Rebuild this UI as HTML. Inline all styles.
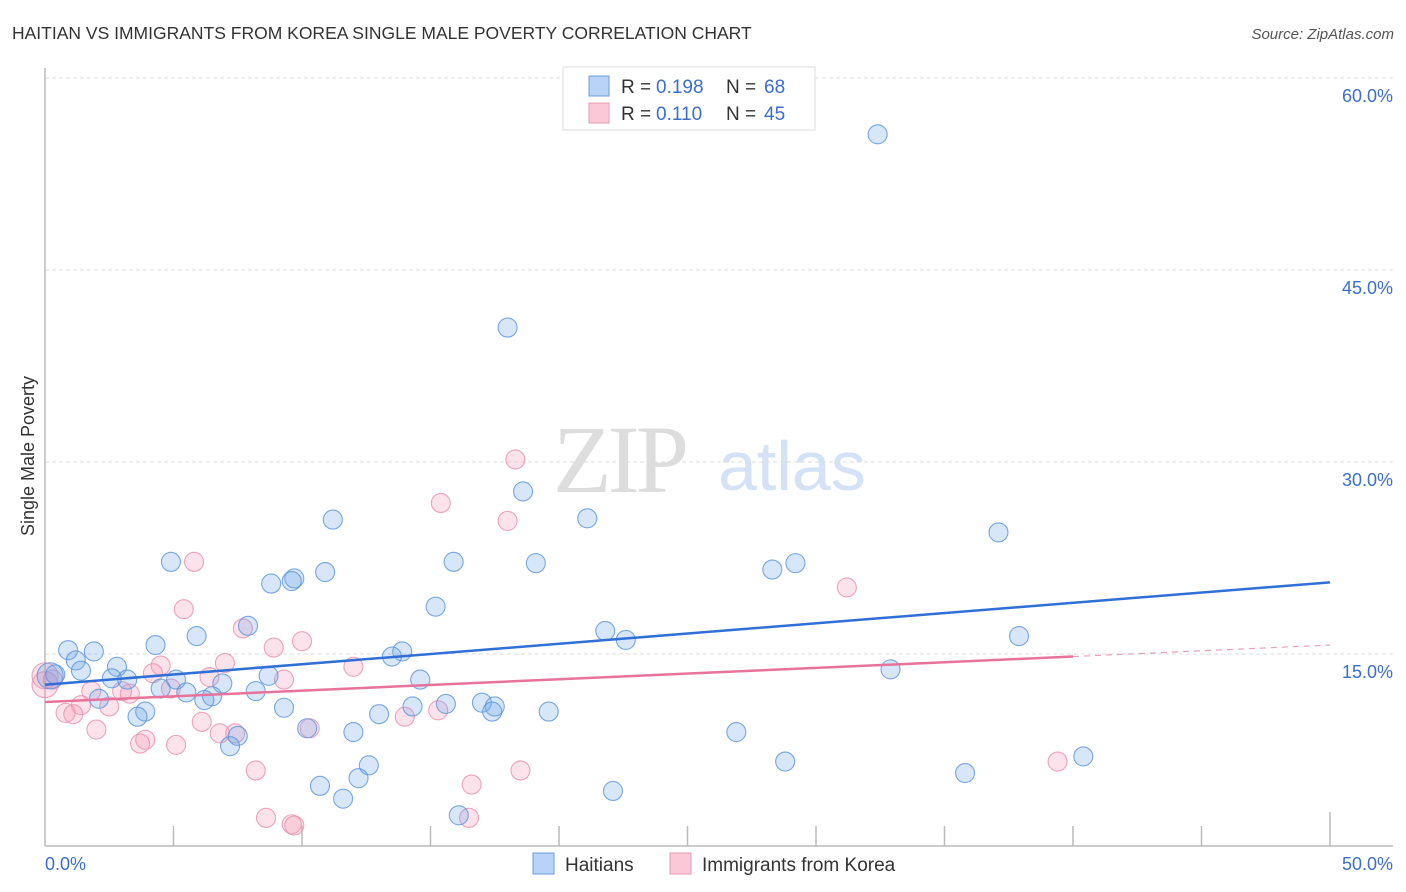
<!DOCTYPE html>
<html><head><meta charset="utf-8"><style>
body{margin:0;background:#fff;font-family:"Liberation Sans",sans-serif}
svg{display:block}
</style></head><body>
<svg width="1406" height="892" viewBox="0 0 1406 892" xmlns="http://www.w3.org/2000/svg">
<text x="12" y="39" font-size="17.5" fill="#333">HAITIAN VS IMMIGRANTS FROM KOREA SINGLE MALE POVERTY CORRELATION CHART</text>
<text x="1394" y="39" font-size="15" fill="#555" font-style="italic" text-anchor="end">Source: ZipAtlas.com</text>
<g>
<text x="553" y="492" font-size="96" font-family="Liberation Serif,serif" fill="#ddd" letter-spacing="-4">ZIP</text>
<text x="718" y="490" font-size="70" fill="#d4e2f5">atlas</text>
</g>
<g id="grid"></g>
<g id="axes"></g>
<g id="pts"></g>
<g id="trend"></g>
<text transform="translate(34,456) rotate(-90)" font-size="18" fill="#333" text-anchor="middle">Single Male Poverty</text>
<g>
<rect x="563" y="67" width="252" height="63" fill="#fff" stroke="#ddd"/>
<rect x="589" y="76" width="20" height="20" fill="#b8d3f5" stroke="#6a9ee0"/>
<rect x="589" y="103" width="20" height="20" fill="#fac8d6" stroke="#ea9bb5"/>
<text x="621" y="93" font-size="19" fill="#333">R =</text>
<text x="656" y="93" font-size="19" fill="#3a6fd0">0.198</text>
<text x="726" y="93" font-size="19" fill="#333">N =</text>
<text x="764" y="93" font-size="19" fill="#3a6fd0">68</text>
<text x="621" y="120" font-size="19" fill="#333">R =</text>
<text x="656" y="120" font-size="19" fill="#3a6fd0">0.110</text>
<text x="726" y="120" font-size="19" fill="#333">N =</text>
<text x="764" y="120" font-size="19" fill="#3a6fd0">45</text>
</g>
<g>
<rect x="533" y="853" width="21" height="21" fill="#b8d3f5" stroke="#6a9ee0"/>
<text x="565" y="871" font-size="19" fill="#333">Haitians</text>
<rect x="670" y="853" width="21" height="21" fill="#fac8d6" stroke="#ea9bb5"/>
<text x="702" y="871" font-size="19" fill="#333">Immigrants from Korea</text>
</g>
</svg>
<script>
const blueX=[32.4,18.0,18.6,21.1,11.2,37.1,4.9,15.9,19.1,29.2,28.3,10.9,9.7,8.8,9.6,15.2,7.9,21.8,37.9,22.6,5.9,4.3,0.9,1.9,13.9,13.5,1.2,1.4,2.8,0.2,0.4,32.9,8.7,2.6,3.2,5.1,6.9,4.5,5.5,8.2,6.5,6.2,14.6,15.6,14.3,17.0,17.5,17.4,9.3,3.9,3.6,19.6,13.0,7.5,10.2,12.0,7.2,26.9,12.6,12.2,10.7,11.6,28.8,35.8,40.4,22.1,16.1,2.1];
const blueY=[55.6,40.5,27.7,25.6,25.5,24.5,22.2,22.2,22.1,22.1,21.6,21.4,20.9,20.5,20.7,18.7,17.2,16.8,16.4,16.1,16.4,15.7,15.3,15.2,15.2,14.8,14.5,13.7,14.0,13.3,13.4,13.8,13.3,13.1,13.0,13.0,12.7,12.3,12.0,12.1,11.7,11.4,13.0,11.1,10.9,11.2,10.9,10.5,10.8,10.5,10.1,10.5,10.3,8.6,9.2,8.9,7.8,8.9,6.3,5.3,4.7,3.7,6.6,5.7,7.0,4.3,2.4,11.5];
const pinkX=[18.3,15.4,18.0,5.8,31.2,5.4,7.7,10.0,8.9,4.5,4.2,12.0,7.0,6.4,9.3,0.0,0.3,1.8,3.0,3.3,4.9,2.5,1.4,0.8,1.1,6.1,15.3,14.0,6.8,7.4,2.0,3.9,3.7,5.1,10.3,8.2,18.5,16.6,39.4,8.6,9.6,9.7,16.5,0.0];
const pinkY=[30.2,26.8,25.4,22.2,20.2,18.5,17.0,16.0,15.5,14.1,13.5,14.0,14.3,13.2,13.0,13.3,13.0,12.1,12.1,11.9,12.3,10.9,11.0,10.4,10.3,9.7,10.6,10.1,8.8,8.8,9.1,8.3,8.0,7.9,9.2,5.9,5.9,4.8,6.6,2.2,1.7,1.6,2.2,12.6];
const blueTrend=[12.6,20.6];
const pinkTrend=[11.25,14.8,15.7];
const yTicks=[15,30,45,60];
const xTickLabels=["0.0%","50.0%"];
const NS="http://www.w3.org/2000/svg";
const X=v=>45+v*25.7, Y=v=>846-v*12.8;
function mk(p,t,a){const e=document.createElementNS(NS,t);for(const k in a)e.setAttribute(k,a[k]);p.appendChild(e);return e;}
const grid=document.getElementById('grid'),axes=document.getElementById('axes'),pts=document.getElementById('pts'),tr=document.getElementById('trend');
yTicks.forEach(t=>{const l=mk(grid,'line',{x1:45,x2:1393,y1:Y(t),y2:Y(t),stroke:'#ddd','stroke-dasharray':'4,3'});


const tx=mk(grid,'text',{x:1393,y:Y(t)+24,'font-size':18,fill:'#3a6fd0','text-anchor':'end'});tx.textContent=t.toFixed(1)+'%';

});
const ya=mk(axes,'line',{x1:45,x2:45,y1:68,y2:846,stroke:'#bbb','stroke-width':1.5});


const xa=mk(axes,'line',{x1:45,x2:1393,y1:846,y2:846,stroke:'#bbb','stroke-width':1.5});


for(let i=1;i<=10;i++){const v=i*5;const tk=mk(axes,'line',{x1:X(v),x2:X(v),y1:i==10?812:826,y2:846,stroke:'#bbb','stroke-width':1.5});

}
[[0,'start'],[50,'end']].forEach((d,i)=>{const t=mk(axes,'text',{x:i?1393:45,y:870,'font-size':18,fill:'#3a6fd0','text-anchor':d[1]});t.textContent=xTickLabels[i];

});
function dots(xs,ys,fill,stroke,name,big){xs.forEach((x,i)=>{const r=(big.includes(i))?13:9.5;const c=mk(pts,'circle',{cx:X(x),cy:Y(ys[i]),r:r,fill:fill,stroke:stroke,'stroke-width':1.1,'stroke-opacity':0.8});

});}
dots(pinkX,pinkY,'rgba(245,150,180,0.28)','#e98fae','korea-point',[15,43]);
dots(blueX,blueY,'rgba(110,165,235,0.28)','#5a92dc','haitian-point',[29]);
const bl=mk(tr,'line',{x1:X(0),y1:Y(blueTrend[0]),x2:X(50),y2:Y(blueTrend[1]),stroke:'#2f6fd6','stroke-width':2.5});


const pl=mk(tr,'line',{x1:X(0),y1:Y(pinkTrend[0]),x2:X(40),y2:Y(pinkTrend[1]),stroke:'#e8739a','stroke-width':2.5});


const pd=mk(tr,'line',{x1:X(40),y1:Y(pinkTrend[1]),x2:X(50),y2:Y(pinkTrend[2]),stroke:'#e8a0b8','stroke-width':1.2,'stroke-dasharray':'6,5'});


</script>
</body></html>
